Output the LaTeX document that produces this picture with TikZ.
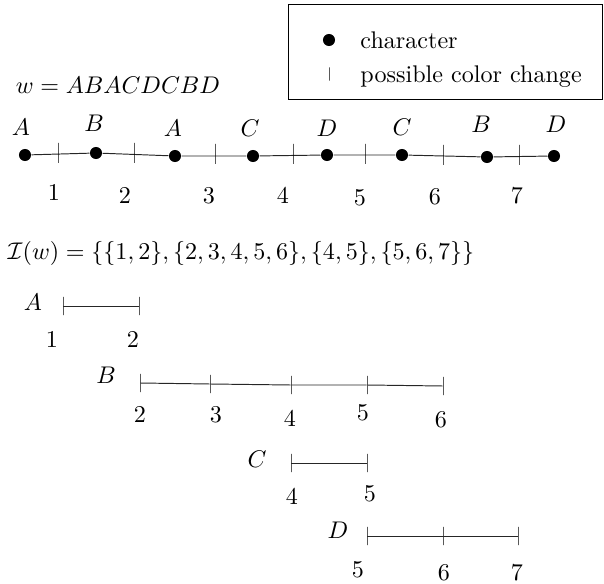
\documentclass[tikz,border=0pt]{standalone}
\usepackage{amsmath,amssymb}
\usepackage{tikz}
\usetikzlibrary{positioning}

\begin{document}
\begin{tikzpicture}[
    x=0.415pt, y=-0.415pt,
    char/.style={circle, fill=black, inner sep=0pt, minimum size=5pt},
    cut/.style={draw, inner sep=0pt, minimum width=0pt, minimum height=8.3pt},
    smallcut/.style={cut, minimum height=7.5pt},
    span/.style={black!85},
    legendtext/.style={anchor=west, inner sep=0pt}
]
\useasboundingbox (0,0) rectangle (604,584);

% Legend
\node[draw, inner sep=0pt, minimum width=130.7pt, minimum height=39.8pt] (legend) at (445.5,52) {};
\node[char] (keychar) at (329,40) {};
\node[legendtext] (keychartext) at (360,40) {character};
\node[cut, minimum height=5.5pt] (keycut) at (329,74) {};
\node[legendtext] (keycuttext) at (360,77) {possible color change};

% Word
\node (word) at (118,85) {$w = ABACDCBD$};

% Characters
\node[char] (c1) at (25,155) {};
\node[char] (c2) at (96,153) {};
\node[char] (c3) at (175,156) {};
\node[char] (c4) at (253,156) {};
\node[char] (c5) at (327,155) {};
\node[char] (c6) at (402,155) {};
\node[char] (c7) at (487,157) {};
\node[char] (c8) at (554,156) {};
\draw[span] (c1) -- (c2) -- (c3) -- (c4) -- (c5) -- (c6) -- (c7) -- (c8);

\node (l1) at (21,127) {$A$};
\node (l2) at (94,123) {$B$};
\node (l3) at (173,128) {$A$};
\node (l4) at (250,128) {$C$};
\node (l5) at (327,128) {$D$};
\node (l6) at (402,127) {$C$};
\node (l7) at (481,124) {$B$};
\node (l8) at (556,124) {$D$};

% Possible color changes
\node[cut] (t1) at (58,153) {};
\node[cut] (t2) at (134,153) {};
\node[cut] (t3) at (215,154) {};
\node[cut] (t4) at (293,154) {};
\node[cut] (t5) at (365,154) {};
\node[cut] (t6) at (443,155) {};
\node[cut] (t7) at (519,155) {};

\node (n1) at (54,193) {$1$};
\node (n2) at (125,196) {$2$};
\node (n3) at (209,196) {$3$};
\node (n4) at (283,196) {$4$};
\node (n5) at (360,198) {$5$};
\node (n6) at (435,197) {$6$};
\node (n7) at (517,196) {$7$};

% Intervals
\node (iw) at (241,253) {$\mathcal{I}(w) = \{\{1,2\},\{2,3,4,5,6\},\{4,5\},\{5,6,7\}\}$};

% A
\node (la) at (33,302) {$A$};
\node[smallcut] (a1) at (63,306) {};
\node[smallcut] (a2) at (139,306) {};
\draw[span] (a1) -- (a2);
\node (na1) at (52,340) {$1$};
\node (na2) at (133,340) {$2$};

% B
\node (lb) at (106,375) {$B$};
\node[smallcut] (b2) at (140,383) {};
\node[smallcut] (b3) at (210,384) {};
\node[smallcut] (b4) at (291,385) {};
\node[smallcut] (b5) at (367,385) {};
\node[smallcut] (b6) at (443,386) {};
\draw[span] (b2) -- (b3) -- (b4) -- (b5) -- (b6);
\node (nb2) at (140,415) {$2$};
\node (nb3) at (216,415) {$3$};
\node (nb4) at (290,419) {$4$};
\node (nb5) at (363,413) {$5$};
\node (nb6) at (441,420) {$6$};

% C
\node (lc) at (257,459) {$C$};
\node[smallcut] (c4i) at (291,463) {};
\node[smallcut] (c5i) at (367,463) {};
\draw[span] (c4i) -- (c5i);
\node (nc4) at (292,497) {$4$};
\node (nc5) at (370,494) {$5$};

% D
\node (ld) at (338,530) {$D$};
\node[smallcut] (d5) at (367,536) {};
\node[smallcut] (d6) at (443,536) {};
\node[smallcut] (d7) at (518,536) {};
\draw[span] (d5) -- (d6) -- (d7);
\node (nd5) at (358,570) {$5$};
\node (nd6) at (444,573) {$6$};
\node (nd7) at (517,573) {$7$};
\end{tikzpicture}
\end{document}
